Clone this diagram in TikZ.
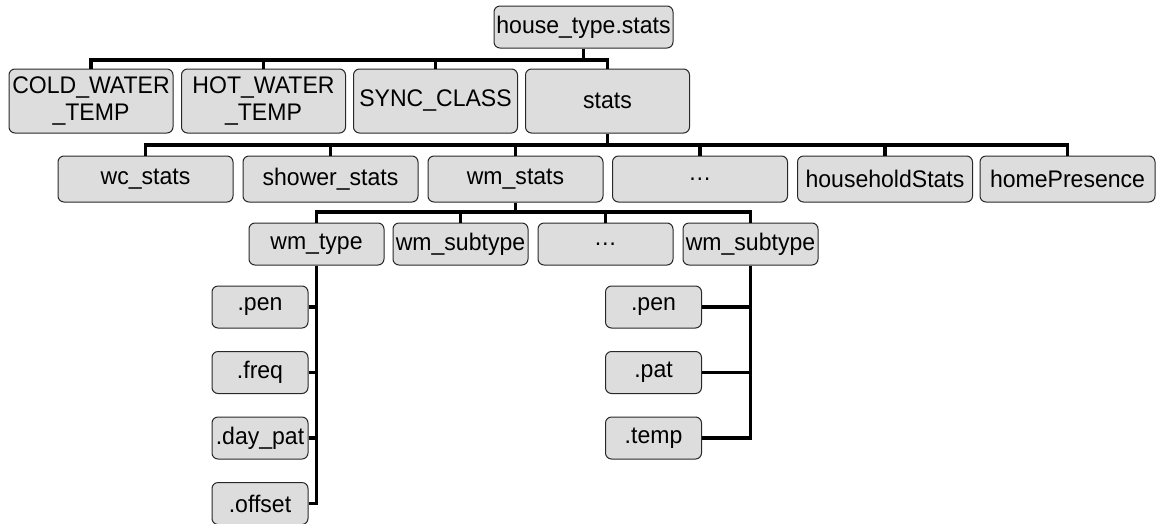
\documentclass[tikz,border=0pt]{standalone}
\usepackage{fontspec}
\setmainfont[FakeStretch=0.96]{Liberation Sans}
\definecolor{boxfill}{RGB}{221,221,221}
\definecolor{boxline}{RGB}{40,40,40}
\begin{document}
\begin{tikzpicture}[x=1pt,y=-1pt,
  box/.style={draw=boxline,line width=1pt,fill=boxfill,rounded corners=6pt,inner sep=0pt,
    align=center,font=\fontsize{24}{27}\selectfont},
  top/.style={box,minimum width=179pt,minimum height=42pt},
  rowa/.style={box,minimum width=164pt,minimum height=64pt},
  rowb/.style={box,minimum width=175pt,minimum height=46pt},
  rowc/.style={box,minimum width=135pt,minimum height=42pt},
  leaf/.style={box,minimum width=96pt,minimum height=42pt},
  conn/.style={line width=3.5pt,black}]
\useasboundingbox (0,0) rectangle (1159,523);
\coordinate (b1) at (0,60);
\coordinate (b2) at (0,145);
\coordinate (b3) at (0,212);
% row 1
\node[top] (house) at (583.5,27) {house\_type.stats};
% row 2
\node[rowa] (cold) at (91,101) {COLD\_WATER\\\_TEMP};
\node[rowa] (hot) at (263.5,101) {HOT\_WATER\\\_TEMP};
\node[rowa] (sync) at (435.5,101) {SYNC\_CLASS};
\node[rowa] (stats) at (607.5,101) {stats};
% row 3
\node[rowb] (wc) at (145.5,179) {wc\_stats};
\node[rowb] (shower) at (330.5,179) {shower\_stats};
\node[rowb] (wm) at (515.5,179) {wm\_stats};
\node[rowb] (dotsb) at (700,179) {…};
\node[rowb] (household) at (885,179) {householdStats};
\node[rowb] (home) at (1067.5,179) {homePresence};
% row 4
\node[rowc] (wmtype) at (316.5,244) {wm\_type};
\node[rowc] (sub1) at (460.5,244) {wm\_subtype};
\node[rowc] (dotsc) at (605.5,244) {…};
\node[rowc] (sub2) at (750.5,244) {wm\_subtype};
% leaves left
\node[leaf] (lpen) at (260,307) {.pen};
\node[leaf] (lfreq) at (260,372.5) {.freq};
\node[leaf] (lday) at (260,438) {.day\_pat};
\node[leaf] (loff) at (260,503.5) {.offset};
% leaves right
\node[leaf] (rpen) at (653.5,307) {.pen};
\node[leaf] (rpat) at (653.5,372.5) {.pat};
\node[leaf] (rtemp) at (653.5,438) {.temp};
% connectors level 1
\draw[conn] (house.south) -- (house.south |- b1);
\draw[conn] (cold.north) -- (cold.north |- b1) -- (stats.north |- b1) -- (stats.north);
\draw[conn] (hot.north) -- (hot.north |- b1);
\draw[conn] (sync.north) -- (sync.north |- b1);
% connectors level 2
\draw[conn] (stats.south) -- (stats.south |- b2);
\draw[conn] (wc.north) -- (wc.north |- b2) -- (home.north |- b2) -- (home.north);
\draw[conn] (shower.north) -- (shower.north |- b2);
\draw[conn] (wm.north) -- (wm.north |- b2);
\draw[conn] (dotsb.north) -- (dotsb.north |- b2);
\draw[conn] (household.north) -- (household.north |- b2);
% connectors level 3
\draw[conn] (wm.south) -- (wm.south |- b3);
\draw[conn] (wmtype.north) -- (wmtype.north |- b3) -- (sub2.north |- b3) -- (sub2.north);
\draw[conn] (sub1.north) -- (sub1.north |- b3);
\draw[conn] (dotsc.north) -- (dotsc.north |- b3);
% left leaves
\draw[conn] (wmtype.south) -- (wmtype.south |- loff.east) -- (loff.east);
\draw[conn] (lpen.east) -- (lpen.east -| wmtype.south);
\draw[conn] (lfreq.east) -- (lfreq.east -| wmtype.south);
\draw[conn] (lday.east) -- (lday.east -| wmtype.south);
% right leaves
\draw[conn] (sub2.south) -- (sub2.south |- rtemp.east) -- (rtemp.east);
\draw[conn] (rpen.east) -- (rpen.east -| sub2.south);
\draw[conn] (rpat.east) -- (rpat.east -| sub2.south);
\end{tikzpicture}
\end{document}
